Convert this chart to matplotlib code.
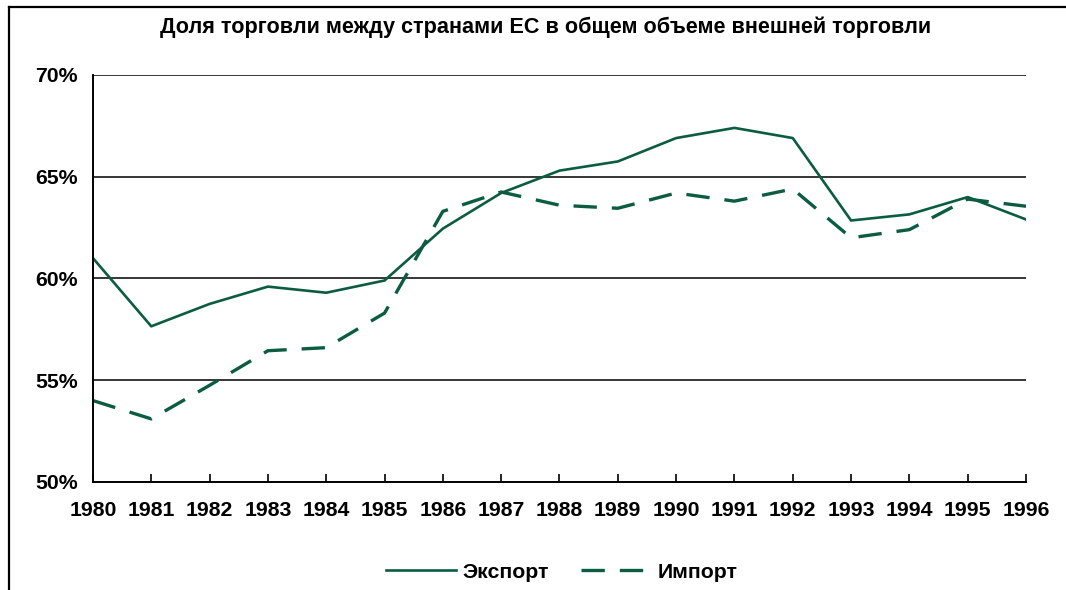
import matplotlib
matplotlib.use("Agg")
import matplotlib.pyplot as plt
from matplotlib.lines import Line2D
from matplotlib.ticker import FuncFormatter

plt.rcParams['font.family'] = ['Liberation Sans', 'DejaVu Sans']

years = list(range(1980, 1997))
export = [61.0, 57.65, 58.75, 59.6, 59.3, 59.9, 62.45, 64.2, 65.3, 65.75,
          66.9, 67.4, 66.9, 62.85, 63.15, 64.0, 62.9]
imports = [54.0, 53.1, 54.75, 56.45, 56.6, 58.3, 63.3, 64.25, 63.6, 63.45,
           64.2, 63.8, 64.4, 62.0, 62.4, 63.9, 63.55]
yticks = [50, 55, 60, 65, 70]

title = "Доля торговли между странами ЕС в общем объеме внешней торговли"
green = "#0b5c40"
fs = 15.3

fig = plt.figure(figsize=(10.66, 5.9), dpi=100)
ax = fig.add_axes([0.0872, 0.1831, 0.8753, 0.6898])

ax.plot(years, export, color=green, lw=1.9, label="Экспорт")
ax.plot(years, imports, color=green, lw=2.4, ls=(0, (7, 4.5)), label="Импорт")

ax.set_xlim(1980, 1996)
ax.set_ylim(50, 70)
ax.set_xticks(years)
ax.set_yticks(yticks)
ax.yaxis.set_major_formatter(FuncFormatter(lambda v, p: f"{v:.0f}%"))
for y in yticks[1:]:
    ax.axhline(y, color="black", lw=1.1, zorder=0)

for s in ["top", "right"]:
    ax.spines[s].set_visible(False)
for s in ["left", "bottom"]:
    ax.spines[s].set_linewidth(1.4)
    ax.spines[s].set_color("black")

ax.tick_params(axis="x", direction="in", length=6, width=1.2, pad=14,
               labelsize=fs)
ax.tick_params(axis="y", length=0, pad=11, labelsize=fs)
for lab in ax.get_xticklabels() + ax.get_yticklabels():
    lab.set_fontweight("bold")

fig.text(0.512, 0.953, title, ha="center", va="center", fontsize=15.6,
         fontweight="bold")

handles = [Line2D([], [], color=green, lw=1.9),
           Line2D([], [], color=green, lw=2.4, ls=(0, (7, 4.5)))]
fig.legend(handles, ["Экспорт", "Импорт"], loc="center",
           bbox_to_anchor=(0.527, 0.03), ncol=2, frameon=False,
           prop={"weight": "bold", "size": fs}, handlelength=3.3,
           handletextpad=0.3, columnspacing=1.5)

# outer frame (left and top edges visible in the original)
fig.add_artist(Line2D([0.0085, 0.0085], [0.0, 0.988], color="black", lw=1.6,
                      transform=fig.transFigure))
fig.add_artist(Line2D([0.0085, 1.0], [0.988, 0.988], color="black", lw=1.6,
                      transform=fig.transFigure))

fig.savefig("out.png", dpi=100)
